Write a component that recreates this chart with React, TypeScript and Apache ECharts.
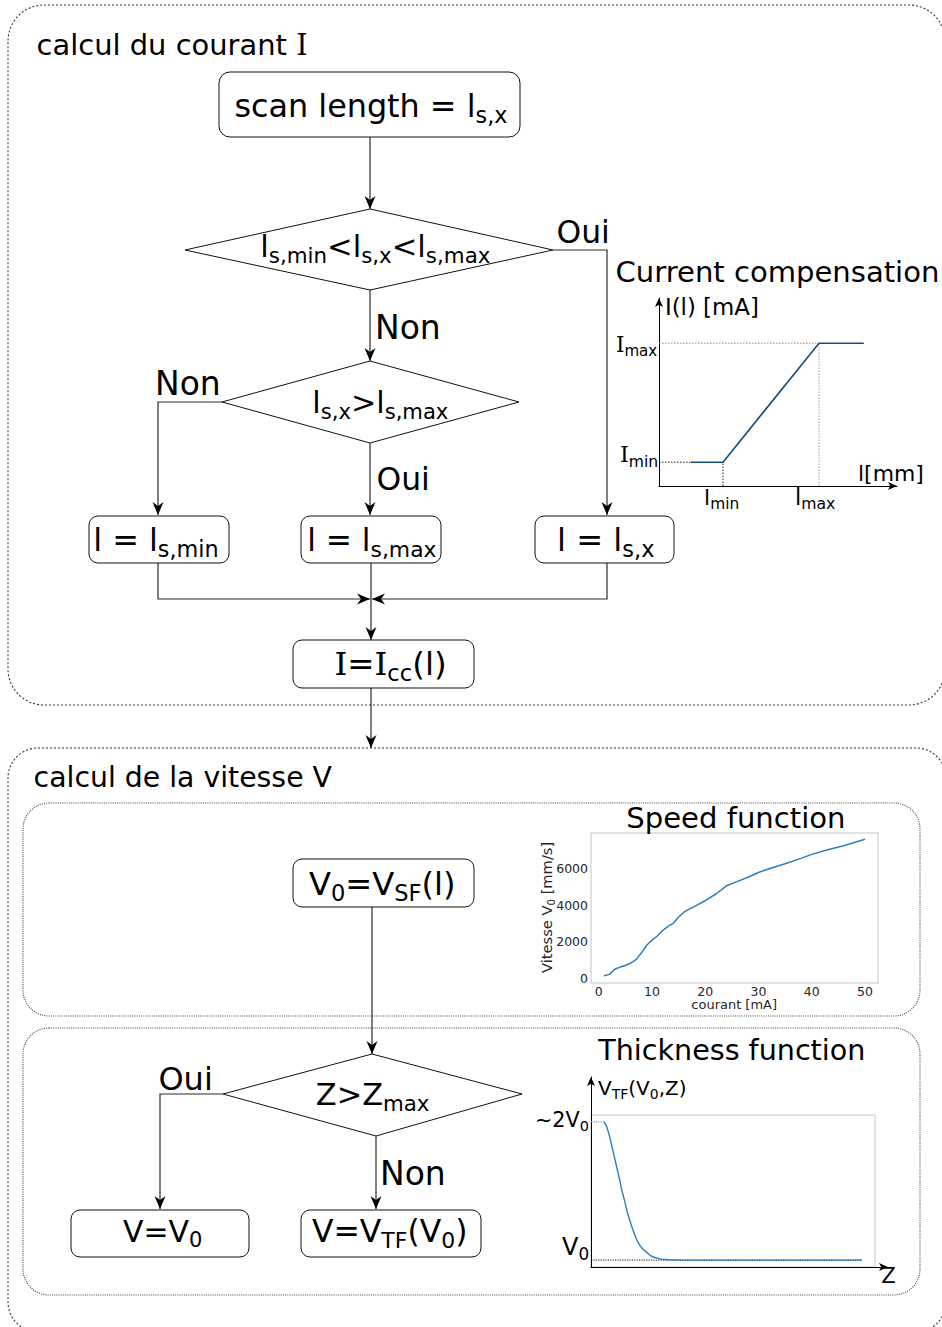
import React, { useEffect, useRef } from 'react';
import * as echarts from 'echarts';

// ---------- data ----------
// Current compensation (schematic): scan length l vs current I
const ccLength = [1, 2, 5, 6.4];
const ccCurrent = [1, 1, 6, 6];
const ccLMin = 2;
const ccLMax = 5;
const ccIMin = 1;
const ccIMax = 6;

// Speed function: courant [mA] -> vitesse V0 [mm/s]
const speedCurrent = [1, 2, 3, 4, 5, 6, 7, 8, 9, 10, 11, 12, 13, 14, 15, 16, 17, 18, 20, 22, 24, 26, 28, 30, 32, 35, 38, 40, 43, 46, 50];
const speedValue = [120, 200, 480, 600, 690, 820, 1010, 1370, 1800, 2080, 2310, 2610, 2835, 3010, 3355, 3620, 3785, 3935, 4250, 4620, 5070, 5300, 5540, 5800, 6010, 6280, 6580, 6800, 7050, 7270, 7630];
const speedXTicks = [0, 10, 20, 30, 40, 50];
const speedYTicks = [0, 2000, 4000, 6000];

// Thickness function: Z -> V_TF / V0
const thickZ = [0, 0.1, 0.2, 0.3, 0.4, 0.5, 0.6, 0.7, 0.8, 0.9, 1.0, 1.1, 1.2, 1.3, 1.4, 1.5, 1.6, 1.8, 2.0, 2.2, 2.5, 3, 4, 5, 6, 7, 8, 9, 10];
const thickV = [2.0, 1.97, 1.91, 1.83, 1.75, 1.67, 1.59, 1.5, 1.43, 1.35, 1.29, 1.23, 1.18, 1.135, 1.105, 1.08, 1.065, 1.033, 1.017, 1.007, 1.002, 1, 1, 1, 1, 1, 1, 1, 1];
const thickZMin = -0.5;
const thickZMax = 10.5;

// ---------- text helpers ----------
const SANS = '"DejaVu Sans", Verdana, sans-serif';
const SERIF = '"DejaVu Serif", serif';

type Part = { t: string; sub?: boolean; serif?: boolean };
const P = (t: string): Part => ({ t });
const S = (t: string): Part => ({ t, sub: true });
const R = (t: string): Part => ({ t, serif: true });

let measureCtx: CanvasRenderingContext2D | null = null;
function measure(t: string, size: number, serif?: boolean) {
  if (!measureCtx) measureCtx = document.createElement('canvas').getContext('2d');
  const c = measureCtx as CanvasRenderingContext2D;
  c.font = `${size}px ${serif ? SERIF : SANS}`;
  const m = c.measureText(t);
  return { w: m.width, l: m.actualBoundingBoxLeft, r: m.actualBoundingBoxRight };
}

function label(parts: Part[], x1: number, x2: number, base: number, fill = '#000', subRatio = 0.7, drop = 0.19): any[] {
  const B = 100;
  let adv = 0;
  let inkL = 0;
  let inkR = 0;
  const advs: number[] = [];
  parts.forEach((p, i) => {
    const m = measure(p.t, p.sub ? B * subRatio : B, p.serif);
    if (i === 0) inkL = -m.l;
    if (i === parts.length - 1) inkR = adv + m.r;
    advs.push(adv);
    adv += m.w;
  });
  const k = (x2 - x1) / (inkR - inkL);
  const F = B * k;
  const x0 = x1 - inkL * k;
  return parts.map((p, i) => {
    const size = p.sub ? F * subRatio : F;
    const y = base + (p.sub ? drop * F : 0) - 0.346 * size;
    return {
      type: 'text',
      x: x0 + advs[i] * k,
      y,
      silent: true,
      style: {
        text: p.t,
        font: `${size.toFixed(2)}px ${p.serif ? SERIF : SANS}`,
        fill,
        align: 'left',
        verticalAlign: 'middle',
      },
    };
  });
}

// ---------- shape helpers ----------
const LINE = '#2b2b2b';
const box = (x: number, y: number, w: number, h: number, r = 9) => ({
  type: 'rect',
  shape: { x, y, width: w, height: h, r },
  style: { fill: '#fff', stroke: '#111', lineWidth: 1 },
});
const dashBox = (x: number, y: number, w: number, h: number, r: number, dash: number[], color: string) => ({
  type: 'rect',
  shape: { x, y, width: w, height: h, r },
  style: { fill: 'none', stroke: color, lineWidth: 1.1, lineDash: dash },
});
const diamond = (pts: number[][]) => ({
  type: 'polygon',
  shape: { points: pts },
  style: { fill: '#fff', stroke: '#111', lineWidth: 1 },
});
const wire = (pts: number[][]) => ({
  type: 'polyline',
  shape: { points: pts },
  style: { fill: 'none', stroke: LINE, lineWidth: 1.2 },
});
const AW = 5.5;
const AL = 13;
const AN = 9;
const arrowDown = (x: number, y: number) => ({
  type: 'polygon',
  shape: { points: [[x, y], [x - AW, y - AL], [x, y - AN], [x + AW, y - AL]] },
  style: { fill: '#000' },
});
const arrowRight = (x: number, y: number) => ({
  type: 'polygon',
  shape: { points: [[x, y], [x - AL, y - AW], [x - AN, y], [x - AL, y + AW]] },
  style: { fill: '#000' },
});
const arrowLeft = (x: number, y: number) => ({
  type: 'polygon',
  shape: { points: [[x, y], [x + AL, y - AW], [x + AN, y], [x + AL, y + AW]] },
  style: { fill: '#000' },
});

const arrowAxis = (gridIndex: number, min: number, max: number) => ({
  type: 'value',
  gridIndex,
  min,
  max,
  axisLine: {
    show: true,
    onZero: false,
    symbol: ['none', 'arrow'],
    symbolSize: [6, 9],
    lineStyle: { color: '#000', width: 1 },
  },
  axisTick: { show: false },
  axisLabel: { show: false },
  splitLine: { show: false },
});
const hiddenAxis = (gridIndex: number, min: number, max: number) => ({
  type: 'value',
  gridIndex,
  min,
  max,
  axisLine: { show: false },
  axisTick: { show: false },
  axisLabel: { show: false },
  splitLine: { show: false },
});

function buildOption(): any {
  const tickLabel = {
    fontSize: 12.5,
    color: '#262626',
    fontFamily: SANS,
    margin: 3,
    formatter: (v: number) => String(v),
  };
  return {
    animation: false,
    backgroundColor: '#fff',
    grid: [
      { left: 659, top: 298, width: 238, height: 188 },
      { left: 591, top: 833, width: 287, height: 150, show: true, borderColor: '#c4c4c4', borderWidth: 1 },
      { left: 591, top: 1115, width: 284, height: 152, show: true, borderColor: '#c8c8c8', borderWidth: 1 },
      { left: 591, top: 1077, width: 297, height: 190 },
    ],
    xAxis: [
      arrowAxis(0, 0, 7.4375),
      {
        type: 'value', gridIndex: 1, min: -1.45, max: 52.45,
        axisLine: { show: false }, axisTick: { show: false }, splitLine: { show: false },
        axisLabel: { ...tickLabel, customValues: speedXTicks, margin: 2 },
      },
      hiddenAxis(2, thickZMin, thickZMax),
      arrowAxis(3, 0, 1),
    ],
    yAxis: [
      arrowAxis(0, 0, 7.9),
      {
        type: 'value', gridIndex: 1, min: -275, max: 7975,
        axisLine: { show: false }, axisTick: { show: false }, splitLine: { show: false },
        axisLabel: { ...tickLabel, customValues: speedYTicks },
      },
      hiddenAxis(2, 0.95, 2.05),
      arrowAxis(3, 0, 1),
    ],
    series: [
      // current compensation guides
      {
        type: 'line', xAxisIndex: 0, yAxisIndex: 0, symbol: 'none', silent: true,
        data: [[0, ccIMax], [ccLMax, ccIMax]],
        lineStyle: { color: '#8a8a8a', width: 1, type: [1.5, 1.5] },
      },
      {
        type: 'line', xAxisIndex: 0, yAxisIndex: 0, symbol: 'none', silent: true,
        data: [[ccLMax, 0], [ccLMax, ccIMax]],
        lineStyle: { color: '#9a9a9a', width: 1, type: [1.5, 1.5] },
      },
      {
        type: 'line', xAxisIndex: 0, yAxisIndex: 0, symbol: 'none', silent: true,
        data: [[0, ccIMin], [ccLength[0], ccIMin]],
        lineStyle: { color: '#222', width: 1, type: [1.5, 1.5] },
      },
      {
        type: 'line', xAxisIndex: 0, yAxisIndex: 0, symbol: 'none', silent: true,
        data: [[ccLMin, 0], [ccLMin, ccIMin]],
        lineStyle: { color: '#222', width: 1, type: [1.5, 1.5] },
      },
      {
        type: 'line', xAxisIndex: 0, yAxisIndex: 0, symbol: 'none', silent: true,
        data: ccLength.map((l, i) => [l, ccCurrent[i]]),
        lineStyle: { color: '#1a4d75', width: 1.6 },
      },
      // speed function
      {
        type: 'line', xAxisIndex: 1, yAxisIndex: 1, symbol: 'none', silent: true,
        data: speedCurrent.map((c, i) => [c, speedValue[i]]),
        lineStyle: { color: '#2a7ec0', width: 1.5 },
      },
      // thickness function guides + curve
      {
        type: 'line', xAxisIndex: 2, yAxisIndex: 2, symbol: 'none', silent: true,
        data: [[thickZMin, 1], [thickZ[thickZ.length - 1], 1]],
        lineStyle: { color: '#111', width: 1, type: [1.2, 1.2] },
      },
      {
        type: 'line', xAxisIndex: 2, yAxisIndex: 2, symbol: 'none', silent: true,
        data: [[thickZMin, 2], [thickZ[0], 2]],
        lineStyle: { color: '#777', width: 1, type: [1.2, 1.2] },
      },
      {
        type: 'line', xAxisIndex: 2, yAxisIndex: 2, symbol: 'none', silent: true,
        data: thickZ.map((z, i) => [z, thickV[i]]),
        lineStyle: { color: '#2a7ec0', width: 1.4 },
      },
    ],
  };
}

function buildGraphic(chart: any): any[] {
  const px = (g: number, v: number[]) => chart.convertToPixel({ gridIndex: g }, v) as number[];
  const els: any[] = [];

  // section frames
  els.push(dashBox(8, 5, 937, 700, 36, [2, 2], '#333'));
  els.push(dashBox(8, 748, 938, 584, 30, [2, 2], '#333'));
  els.push(dashBox(23, 803, 897, 213, 26, [1, 1.2], '#444'));
  els.push(dashBox(23, 1028, 897, 267, 26, [1, 1.2], '#444'));

  // ---- top flowchart wires ----
  els.push(wire([[370, 137], [370, 209]]), arrowDown(370, 209));
  els.push(wire([[553, 250], [607, 250], [607, 515]]), arrowDown(607, 515));
  els.push(wire([[370, 290], [370, 361]]), arrowDown(370, 361));
  els.push(wire([[222, 402], [158, 402], [158, 515]]), arrowDown(158, 515));
  els.push(wire([[370, 443], [370, 515]]), arrowDown(370, 515));
  els.push(wire([[158, 563], [158, 599], [370, 599]]), arrowRight(370, 599));
  els.push(wire([[607, 563], [607, 599], [372, 599]]), arrowLeft(372, 599));
  els.push(wire([[371, 563], [371, 640]]), arrowDown(371, 640));
  els.push(wire([[371, 688], [371, 748]]), arrowDown(371, 748));

  // ---- top flowchart nodes ----
  els.push(box(219, 72, 301, 65, 11));
  els.push(diamond([[185, 250], [370, 209], [553, 250], [370, 290]]));
  els.push(diamond([[222, 402], [370, 361], [519, 402], [370, 443]]));
  els.push(box(89, 516, 140, 47));
  els.push(box(301, 516, 140, 47));
  els.push(box(535, 516, 139, 47));
  els.push(box(293, 640, 181, 48));

  // ---- bottom flowchart ----
  els.push(wire([[372, 907], [372, 1054]]), arrowDown(372, 1054));
  els.push(wire([[223, 1094], [160, 1094], [160, 1209]]), arrowDown(160, 1209));
  els.push(wire([[376, 1136], [376, 1209]]), arrowDown(376, 1209));
  els.push(box(293, 859, 181, 48));
  els.push(diamond([[223, 1094], [372, 1054], [522, 1094], [376, 1136]]));
  els.push(box(71, 1210, 178, 47));
  els.push(box(301, 1210, 180, 47));

  // ---- texts ----
  const T = (parts: Part[], x1: number, x2: number, base: number, fill = '#000') => els.push(...label(parts, x1, x2, base, fill));
  T([P('calcul du courant '), R('I')], 38, 306, 55);
  T([P('scan length = l'), S('s,x')], 236, 507, 117);
  T([P('l'), S('s,min'), P('<l'), S('s,x'), P('<l'), S('s,max')], 263, 490, 257);
  T([P('Oui')], 558, 607, 243);
  T([P('Non')], 378, 438, 339);
  T([P('Current compensation')], 617, 937, 282);
  T([P('l'), S('s,x'), P('>l'), S('s,max')], 315, 448, 413);
  T([P('Non')], 158, 218, 395);
  T([P('Oui')], 378, 427, 490);
  T([P('l = l'), S('s,min')], 96, 217, 551);
  T([P('l = l'), S('s,max')], 310, 436, 551);
  T([P('l = l'), S('s,x')], 560, 654, 551);
  T([R('I'), P('='), R('I'), S('cc'), P('(l)')], 336, 444, 675);
  T([P('I(l) [mA]')], 667, 757, 315);
  T([P('l[mm]')], 860, 922, 481);

  T([P('calcul de la vitesse V')], 35, 332, 787);
  T([P('Speed function')], 628, 843, 828);
  T([P('V'), S('0'), P('=V'), S('SF'), P('(l)')], 309, 453, 895);
  T([P('Thickness function')], 598, 863, 1060);
  T([P('V'), S('TF'), P('(V'), S('0'), P(',Z)')], 598, 685, 1095);
  T([P('Z>Z'), S('max')], 317, 429, 1105);
  T([P('Oui')], 160, 210, 1090);
  T([P('Non')], 383, 443, 1185);
  T([P('V=V'), S('0')], 123, 201, 1242);
  T([P('V=V'), S('TF'), P('(V'), S('0'), P(')')], 312, 465, 1242);
  T([P('Z')], 882, 895, 1283);
  T([P('courant [mA]')], 692, 776, 1009, '#262626');

  // rotated y-axis title of the speed chart
  els.push({
    type: 'group',
    x: 548,
    y: 908,
    rotation: Math.PI / 2,
    children: label([P('Vitesse V'), S('0'), P(' [mm/s]')], -65, 65, 4, '#262626'),
  });

  // chart-anchored tick labels (current compensation)
  const pImax = px(0, [0, ccIMax]);
  T([R('I'), S('max')], pImax[0] - 42, pImax[0] - 2, pImax[1] + 9);
  const pImin = px(0, [0, ccIMin]);
  T([R('I'), S('min')], pImin[0] - 38, pImin[0] - 2, pImin[1]);
  const pLmin = px(0, [ccLMin, 0]);
  T([P('l'), S('min')], pLmin[0] - 17, pLmin[0] + 15, pLmin[1] + 19);
  const pLmax = px(0, [ccLMax, 0]);
  T([P('l'), S('max')], pLmax[0] - 22, pLmax[0] + 16, pLmax[1] + 19);

  // thickness chart level labels
  const p2 = px(2, [thickZMin, 2]);
  T([P('~2V'), S('0')], p2[0] - 54, p2[0] - 3, p2[1] + 5);
  const p1 = px(2, [thickZMin, 1]);
  T([P('V'), S('0')], p1[0] - 29, p1[0] - 3, p1[1] - 5);

  return els;
}

export default function App() {
  const ref = useRef<HTMLDivElement>(null);
  useEffect(() => {
    document.body.style.margin = '0';
    const chart = echarts.init(ref.current as HTMLDivElement, null, { renderer: 'svg' });
    chart.setOption(buildOption());
    chart.setOption({ graphic: { elements: buildGraphic(chart) } });
    return () => chart.dispose();
  }, []);
  return <div ref={ref} style={{ width: 942, height: 1327 }} />;
}
